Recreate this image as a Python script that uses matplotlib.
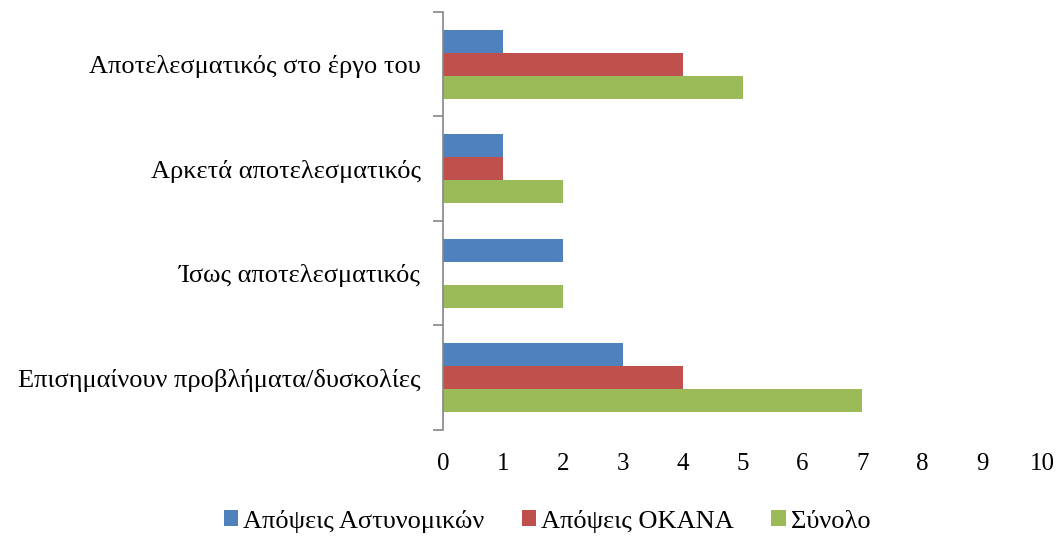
import numpy as np
import matplotlib
matplotlib.use("Agg")
import matplotlib.pyplot as plt

plt.rcParams['font.family'] = ['Liberation Serif', 'DejaVu Serif']

# Daten (von unten nach oben)
kategorien = ["Επισημαίνουν προβλήματα/δυσκολίες", "Ίσως αποτελεσματικός",
              "Αρκετά αποτελεσματικός", "Αποτελεσματικός στο έργο του"]
astynomikoi = [3, 2, 1, 1]
okana = [4, 0, 1, 4]
synolo = [7, 2, 2, 5]
serien = ["Απόψεις Αστυνομικών", "Απόψεις ΟΚΑΝΑ", "Σύνολο"]
farben = ["#4f81bd", "#c0504d", "#9bbb59"]
xticks = list(range(0, 11))

fig = plt.figure(figsize=(10.6, 5.4), dpi=100)
ax = fig.add_axes([0.418, 0.204, 0.565, 0.774])

y = np.arange(len(kategorien))
h = 0.22
ax.barh(y + h, astynomikoi, height=h, color=farben[0], label=serien[0])
ax.barh(y, okana, height=h, color=farben[1], label=serien[1])
ax.barh(y - h, synolo, height=h, color=farben[2], label=serien[2])

ax.set_xlim(0, 10)
ax.set_ylim(-0.5, len(kategorien) - 0.5)
ax.set_xticks(xticks)
ax.set_xticklabels([str(t) for t in xticks], fontsize=18)
ax.tick_params(axis='x', length=0, pad=17)

# Kategorie-Beschriftungen ohne Tickstriche, Trennstriche an den Grenzen
ax.set_yticks(y)
ax.set_yticklabels(kategorien, fontsize=19)
ax.tick_params(axis='y', which='major', length=0, pad=16)
ax.set_yticks(np.arange(-0.5, len(kategorien), 1), minor=True)
ax.tick_params(axis='y', which='minor', length=7, width=1.2, color='#868686')

for s in ['top', 'right', 'bottom']:
    ax.spines[s].set_visible(False)
ax.spines['left'].set_color('#868686')
ax.spines['left'].set_linewidth(1.2)

handles, labels = ax.get_legend_handles_labels()
fig.legend(handles, labels, loc='center', bbox_to_anchor=(0.516, 0.035), ncol=3,
           frameon=False, fontsize=19, handlelength=0.55, handleheight=0.55,
           handletextpad=0.2, columnspacing=1.4, borderpad=0)

plt.savefig("out.png", dpi=100)
